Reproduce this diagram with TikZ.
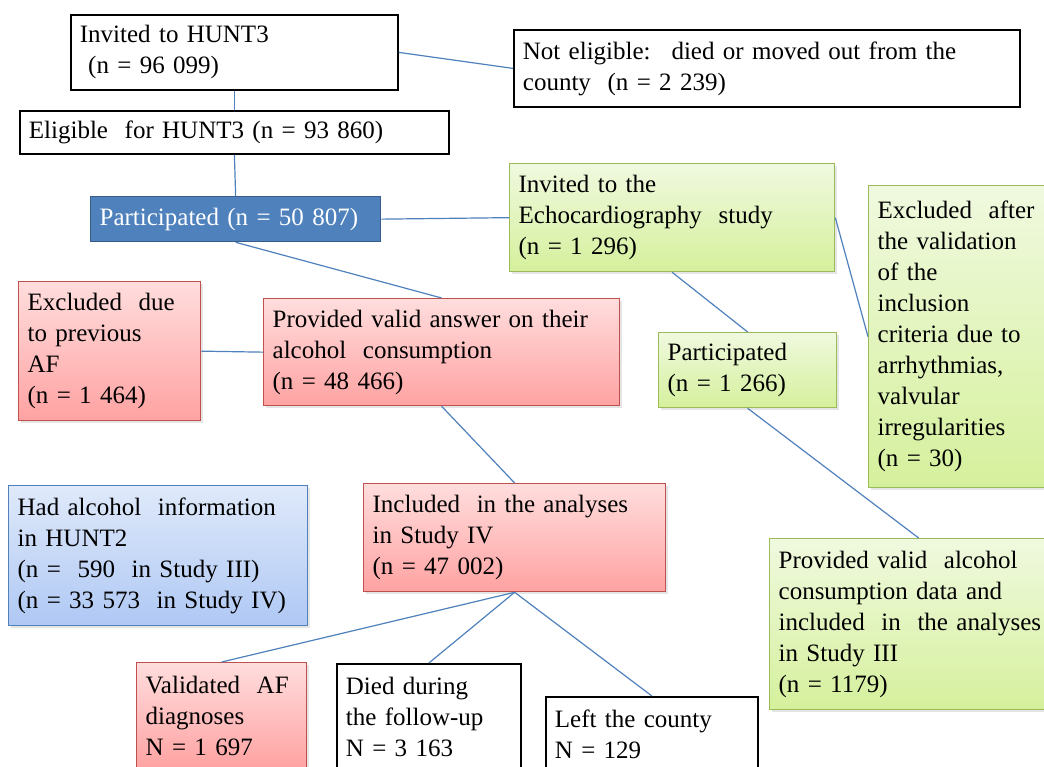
\documentclass[tikz,border=0pt]{standalone}
\usepackage{fontspec}
\setmainfont{Liberation Serif}
\usepackage{tikz}
\usepackage{xcolor}
\usetikzlibrary{shadows}

\definecolor{linkblue}{HTML}{4F81BD}
\definecolor{darkblue}{HTML}{385D8A}
\definecolor{redtop}{HTML}{FFDDDD}
\definecolor{redbot}{HTML}{FFA2A2}
\definecolor{redline}{HTML}{C0504D}
\definecolor{greentop}{HTML}{F0F9DF}
\definecolor{greenbot}{HTML}{D5F09C}
\definecolor{greenline}{HTML}{9BBB59}
\definecolor{bluetop}{HTML}{DFE9FA}
\definecolor{bluebot}{HTML}{AFC8F4}

\tikzset{
	box/.style={anchor=north west, align=left, inner xsep=9pt, inner ysep=7pt,
		font=\fontsize{25}{31}\selectfont},
	whitebox/.style={box, draw=black, line width=1.8pt, fill=white},
	redbox/.style={box, draw=redline, line width=1.3pt, top color=redtop, bottom color=redbot,
		drop shadow={opacity=0.2, shadow xshift=2pt, shadow yshift=-2pt}},
	greenbox/.style={box, draw=greenline, line width=1.3pt, top color=greentop, bottom color=greenbot,
		drop shadow={opacity=0.2, shadow xshift=2pt, shadow yshift=-2pt}},
	lightbox/.style={box, draw=linkblue, line width=1.3pt, top color=bluetop, bottom color=bluebot,
		drop shadow={opacity=0.2, shadow xshift=2pt, shadow yshift=-2pt}},
	darkbox/.style={box, draw=darkblue, line width=1.3pt, fill=linkblue, text=white},
	cutbox/.style={inner ysep=13pt},
	link/.style={draw=linkblue, line width=1.2pt},
}

\begin{document}
\begin{tikzpicture}[x=1pt, y=-1pt]
			\useasboundingbox (0,0) rectangle (1044,767);
			\clip (0,0) rectangle (1044,767);
			\fill[white] (0,0) rectangle (1044,767);
			% first row
			\node[whitebox, text width=309pt, minimum height=75pt] (invited) at (70,14) {Invited to HUNT3\\ \ (n = 96 099)};
			\node[whitebox, text width=488pt, minimum height=77pt] (noteligible) at (513,29) {Not eligible:~ died or moved out from the\\ county~ (n = 2 239)};
			\node[whitebox, text width=411pt, minimum height=43pt] (eligible) at (19,110) {Eligible~ for HUNT3 (n = 93 860)};
			\node[darkbox, text width=272pt, minimum height=45pt] (participated) at (90,196) {Participated (n = 50 807)};
			% echocardiography branch
			\node[greenbox, text width=307pt, minimum height=108pt] (echo) at (509,163) {Invited to the\\ Echocardiography~ study\\ (n = 1 296)};
			\node[greenbox, text width=190pt, minimum height=302pt] (echoexcl) at (868,185) {Excluded~ after\\ the validation\\ of the\\ inclusion\\ criteria due to\\ arrhythmias,\\ valvular\\ irregularities\\ (n = 30)};
			\node[greenbox, text width=160pt, minimum height=75pt] (echopart) at (658,332) {Participated\\ (n = 1 266)};
			\node[greenbox, text width=280pt, minimum height=171pt] (studythree) at (769,538) {Provided valid~ alcohol\\ consumption data and\\ included~ in~ the analyses\\ in Study III\\ (n = 1179)};
			% alcohol branch
			\node[redbox, text width=164pt, minimum height=139pt] (previousaf) at (18,281) {Excluded~ due\\ to previous\\ AF\\ (n = 1 464)};
			\node[redbox, text width=338pt, minimum height=107pt] (validanswer) at (263,298) {Provided valid answer on their\\ alcohol~ consumption\\ (n = 48 466)};
			\node[lightbox, text width=281pt, minimum height=140pt] (hunttwo) at (8,485) {Had alcohol~ information\\ in HUNT2\\ (n =~ 590~ in Study III)\\ (n = 33 573~ in Study IV)};
			\node[redbox, text width=284pt, minimum height=108pt] (studyfour) at (363,483) {Included~ in the analyses\\ in Study IV\\ (n = 47 002)};
			% follow-up
			\node[redbox, cutbox, text width=152pt] (validaf) at (136,662) {Validated~ AF\\ diagnoses\\ N = 1 697};
			\node[whitebox, cutbox, text width=166pt] (died) at (336,663) {Died during\\ the follow-up\\ N = 3 163};
			\node[whitebox, cutbox, text width=194pt] (leftcounty) at (545,696) {Left the county\\ N = 129};
%			\draw[link] (eligible.south) -- (eligible.south |- participated.north);
			\draw[link] (invited.east) -- (noteligible.west);
			\draw[link] (invited.south) -- (eligible.north);
			\draw[link] (eligible.south) -- (participated.north);
			\draw[link] (participated.east) -- (echo.west);
			\draw[link] (participated.south) -- (validanswer.north);
			\draw[link] (previousaf.east) -- (validanswer.west);
			\draw[link] (validanswer.south) -- (studyfour.north);
			\draw[link] (echo.south) -- (echopart.north);
			\draw[link] (echo.east) -- (echoexcl.west);
			\draw[link] (echopart.south) -- (studythree.north);
			\draw[link] (studyfour.south) -- (validaf.north);
			\draw[link] (studyfour.south) -- (died.north);
			\draw[link] (studyfour.south) -- (leftcounty.north);
		\end{tikzpicture}
\end{document}
